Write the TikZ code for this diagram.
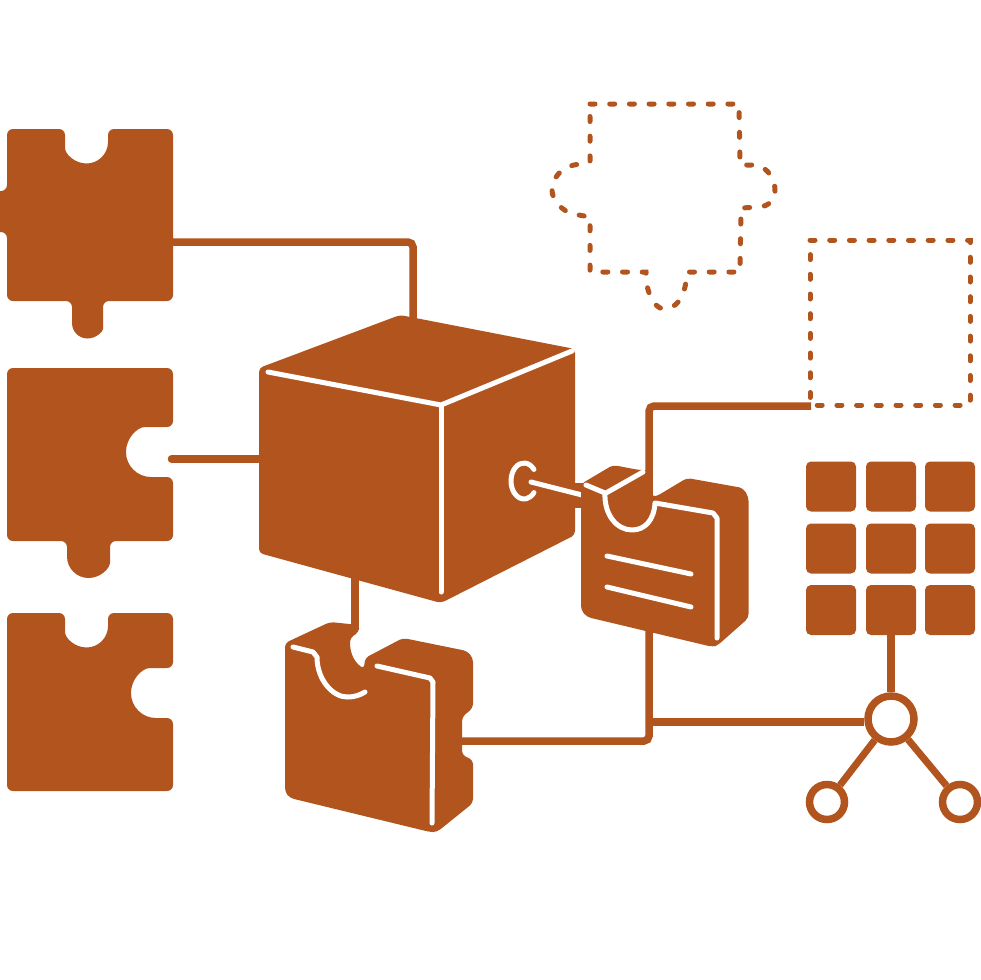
\documentclass[tikz,border=0pt]{standalone}
\usepackage{tikz}
\definecolor{rust}{HTML}{B1541E}
\tikzstyle{piece} = [fill=rust, rounded corners=6pt]
\tikzstyle{block} = [fill=rust, rounded corners=4pt]
\tikzstyle{wire} = [draw=rust, line width=7.5pt, rounded corners=5pt]
\tikzstyle{cut} = [draw=white, line width=5pt, line cap=round, line join=round]
\tikzstyle{ghost} = [draw=rust, line width=5pt, line cap=round, dash pattern=on 5pt off 14.7pt]
\tikzstyle{tile} = [rectangle, rounded corners=5pt, fill=rust, minimum width=50pt, minimum height=50pt, inner sep=0pt]
\tikzstyle{hubnode} = [circle, draw=rust, fill=white, line width=7.5pt, minimum size=46pt, inner sep=0pt]
\tikzstyle{leafnode} = [circle, draw=rust, fill=white, line width=7.5pt, minimum size=35pt, inner sep=0pt]

\begin{document}
\begin{tikzpicture}[x=1pt, y=-1pt]
    \useasboundingbox (0,0) rectangle (980,980);

    % wire ends
    \coordinate (pieceA) at (170,242);
    \coordinate (pieceB) at (171.5,459);
    \coordinate (cubeL) at (262,459);
    \coordinate (cubeT) at (413,320);
    \coordinate (cubeB) at (355,570);
    \coordinate (blockT) at (355,630);
    \coordinate (blockR) at (460,741);
    \coordinate (docT) at (649,500);
    \coordinate (docB) at (649,630);
    \coordinate (ghostBox) at (811,406);
    \coordinate (junction) at (649,722);

    % grid and hub
    \foreach \row/\y in {0/486.5, 1/548.5, 2/610} {
        \foreach \col/\x in {0/831, 1/891, 2/950} {
            \node (tile\row\col) [tile] at (\x,\y) {};
        }
    }
    \node (hub) [hubnode] at (891,719) {};
    \node (leafL) [leafnode] at (827,802) {};
    \node (leafR) [leafnode] at (960,802) {};

    % wires
    \draw [wire] (pieceA) -| (cubeT);
    \draw [wire, line cap=round] (pieceB) -- (cubeL);
    \draw [wire] (cubeB) -- (blockT);
    \draw [wire] (docT) |- (ghostBox);
    \draw [wire] (docB) |- (blockR);
    \draw [wire] (junction) -- (junction -| hub.west);
    \draw [wire] (tile21) -- (hub);
    \draw [draw=rust, line width=7pt] (hub) -- (leafL);
    \draw [draw=rust, line width=7pt] (hub) -- (leafR);

    % puzzle pieces
    \path [piece] (7,129) -- (65,129) -- (65,142) [sharp corners] arc[start angle=180, end angle=0, radius=21.5] [rounded corners=6pt] -- (108,129) -- (173,129) -- (173,301) -- (103,301) -- (103,323) [sharp corners] arc[start angle=0, end angle=180, radius=15.5] [rounded corners=6pt] -- (72,301) -- (7,301) -- (7,232) -- (-8,232) -- (-8,191) -- (7,191) -- cycle;
    \path [piece] (7,368) -- (173,368) -- (173,427) -- (151,427) [sharp corners] arc[start angle=270, end angle=90, radius=25] [rounded corners=6pt] -- (173,477) -- (173,541) -- (110,541) -- (110,556.5) [sharp corners] arc[start angle=0, end angle=180, radius=21.5] [rounded corners=6pt] -- (67,541) -- (7,541) -- cycle;
    \path [piece] (7,613) -- (65,613) -- (65,626) [sharp corners] arc[start angle=180, end angle=0, radius=21.5] [rounded corners=6pt] -- (108,613) -- (173,613) -- (173,668) -- (156,668) [sharp corners] arc[start angle=270, end angle=90, radius=25] [rounded corners=6pt] -- (173,718) -- (173,791) -- (7,791) -- cycle;

    % cube
    \path [block] (259,368) -- (400,315) -- (575,349) -- (575,535) -- (441,603) -- (259,553) -- cycle;
    \path [fill=rust] (574,483) -- (584,483) -- (584,508) -- (574,508) -- cycle;
    \draw [cut] (268,372) -- (441,405) -- (572,351);
    \draw [cut] (441,405) -- (441,592);
    \draw [cut] (524,481) ++(-40:13 and 18) arc[start angle=-40, end angle=-320, x radius=13, y radius=18];
    \draw [cut] (531,482) -- (584,495.5);

    % right block
    \path [block] (581,484) -- (613,465) -- (639,470) -- (646,470) -- (652,470) -- (652,497) -- (657,496) -- (687,478) -- (743,488) -- (748.5,497) -- (748.5,618) -- (718,645) -- (713,647) -- (587,617) -- (581,610) -- cycle;
    \draw [cut] (586,485) -- (605,493) .. controls (604,515) and (617,530) .. (632,530) .. controls (645,530) and (654,520) .. (655,503) -- (713,513) -- (717,518) -- (717,638);
    \draw [cut] (643,472) -- (606,493);
    \draw [cut] (607,556) -- (691,574);
    \draw [cut] (607,587) -- (691,607);

    % lower block
    \path [block] (285,643) -- (330,622) -- (359,625) -- (359,632) -- (350,638) .. controls (350,650) and (352,660) .. (364,669) -- (365,658) -- (403,638) -- (467,651) -- (473,658) -- (473,708) -- (462,717) -- (462,755) -- (473,760) -- (473,803) -- (437,832) -- (430,832) -- (290,798) -- (285,792) -- cycle;
    \draw [cut] (293,647) -- (313,652) -- (317,657) .. controls (317,680) and (333,697) .. (347,697) .. controls (355,697) and (360,695) .. (365,692);
    \draw [cut] (377,666) -- (430,678) -- (433,682) -- (432,823);

    % dashed outlines
    \draw [ghost] (810,240) -- (970,240) -- (970,405) -- (810,405) -- cycle;
    \draw [ghost] (590,104) -- (739,104) -- (740,165) -- (757,165) .. controls (768,168) and (776,180) .. (775,193) .. controls (775,200) and (768,206) .. (760,207) -- (741,208) -- (740,272) -- (687,272) .. controls (686,285) and (684,298) .. (675,305) .. controls (668,310) and (660,310) .. (656,305) .. controls (648,295) and (646,285) .. (646,272) -- (590,272) -- (590,217) -- (573,214) .. controls (562,211) and (552,200) .. (552,190) .. controls (552,178) and (562,167) .. (574,165) -- (590,162) -- cycle;
\end{tikzpicture}
\end{document}
